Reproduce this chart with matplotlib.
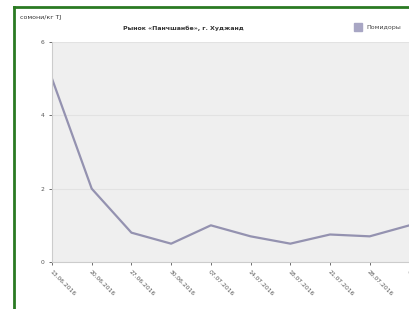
import matplotlib.pyplot as plt
from matplotlib.lines import Line2D
from matplotlib.patches import Rectangle

dates = ['13.06.2016', '20.06.2016', '27.06.2016', '30.06.2016', '07.07.2016',
         '14.07.2016', '18.07.2016', '21.07.2016', '28.07.2016', '04.08.2016']
prices = [5.0, 2.0, 0.8, 0.5, 1.0, 0.7, 0.5, 0.75, 0.7, 1.0]

fig = plt.figure(figsize=(4.09, 3.09), dpi=100)

# axes runs past the right edge like the cropped screenshot
ax = fig.add_axes([52 / 409, 47 / 309, 417 / 409, 220 / 309])
ax.set_facecolor('#efefef')
ax.plot(range(len(prices)), prices, color='#9492b0', linewidth=1.6)
ax.set_xlim(0, 10.5)
ax.set_ylim(0, 6)
ax.set_yticks([0, 2, 4, 6])
ax.set_xticks(range(len(dates)))
ax.set_xticklabels(dates, rotation=-45, ha='left', va='top', rotation_mode='anchor')
ax.tick_params(labelsize=4.3, colors='#555555', length=2, width=0.6)
ax.grid(axis='y', color='#e2e2e2', linewidth=0.8)
for s in ['top', 'right']:
    ax.spines[s].set_visible(False)
for s in ['left', 'bottom']:
    ax.spines[s].set_color('#cccccc')

fig.text(20 / 409, 1 - 18 / 309, 'сомони/кг TJ', fontsize=4.5, color='#333333', va='center')
fig.text(183 / 409, 1 - 28 / 309, 'Рынок «Панчшанбе», г. Худжанд', fontsize=4.5,
         fontweight='bold', color='#333333', va='center', ha='center')
fig.patches.append(Rectangle((354 / 409, 1 - 31 / 309), 8 / 409, 8 / 309,
                             transform=fig.transFigure, color='#a8a6c4', figure=fig))
fig.text(366 / 409, 1 - 27 / 309, 'Помидоры', fontsize=4.5, color='#444444', va='center')

# green frame of the screenshot
fig.lines.append(Line2D([14 / 409, 14 / 409], [0, 1 - 7 / 309], transform=fig.transFigure,
                        color='#2a7a22', linewidth=2))
fig.lines.append(Line2D([14 / 409, 1], [1 - 7 / 309, 1 - 7 / 309], transform=fig.transFigure,
                        color='#2a7a22', linewidth=2))

fig.savefig('out.png', dpi=100)
